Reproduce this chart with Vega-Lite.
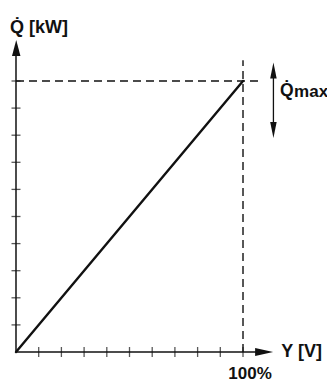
{
  "$schema": "https://vega.github.io/schema/vega-lite/v6.json",
  "width": 327,
  "height": 383,
  "autosize": {"type": "none"},
  "padding": 0,
  "config": {"view": {"stroke": null}, "text": {"font": "Liberation Sans", "fontWeight": "bold", "color": "#111"}},
  "datasets": {
    "axes": [
      {"x": 0, "y": 0, "x2": 105.7, "y2": 0},
      {"x": 0, "y": 0, "x2": 0, "y2": 109.6}
    ],
    "curve": [
      {"x": 0, "y": 0, "x2": 100, "y2": 100}
    ],
    "guides": [
      {"x": 0, "y": 100, "x2": 107, "y2": 100},
      {"x": 100, "y": 0, "x2": 100, "y2": 107.7}
    ],
    "range": [
      {"x": 113.4, "y": 104, "x2": 113.4, "y2": 82}
    ],
    "xticks": [
      {"x": 10, "y": 0}, {"x": 20, "y": 0}, {"x": 30, "y": 0}, {"x": 40, "y": 0}, {"x": 50, "y": 0},
      {"x": 60, "y": 0}, {"x": 70, "y": 0}, {"x": 80, "y": 0}, {"x": 90, "y": 0}, {"x": 100, "y": 0}
    ],
    "yticks": [
      {"x": 0, "y": 10}, {"x": 0, "y": 20}, {"x": 0, "y": 30}, {"x": 0, "y": 40}, {"x": 0, "y": 50},
      {"x": 0, "y": 60}, {"x": 0, "y": 70}, {"x": 0, "y": 80}, {"x": 0, "y": 90}, {"x": 0, "y": 100}
    ],
    "heads": [
      {"x": 0.1, "y": 112.2, "dir": "up"},
      {"x": 109.3, "y": 0, "dir": "right"},
      {"x": 113.4, "y": 103.9, "dir": "rangeUp"},
      {"x": 113.4, "y": 81.9, "dir": "rangeDown"}
    ],
    "labels": [
      {"x": -2.6, "y": 117.6, "label": "Q̇ [kW]", "role": "title"},
      {"x": 116.9, "y": -1.9, "label": "Y [V]", "role": "title"},
      {"x": 116.3, "y": 94.6, "label": "Q̇", "role": "q"},
      {"x": 122.5, "y": 94.1, "label": "max", "role": "sub"}
    ],
    "pct": [
      {"x": 103.1, "y": -9.9, "label": "100%"}
    ]
  },
  "encoding": {
    "x": {"field": "x", "type": "quantitative", "scale": {"domain": [-7.048, 137.0], "nice": false, "zero": false}, "axis": null},
    "y": {"field": "y", "type": "quantitative", "scale": {"domain": [-11.439, 129.889], "nice": false, "zero": false}, "axis": null}
  },
  "layer": [
    {
      "data": {"name": "guides"},
      "mark": {"type": "rule", "color": "#111", "strokeWidth": 1.4, "strokeDash": [8, 5]},
      "encoding": {"x2": {"field": "x2"}, "y2": {"field": "y2"}}
    },
    {
      "data": {"name": "axes"},
      "mark": {"type": "rule", "color": "#111", "strokeWidth": 1.5},
      "encoding": {"x2": {"field": "x2"}, "y2": {"field": "y2"}}
    },
    {
      "data": {"name": "range"},
      "mark": {"type": "rule", "color": "#111", "strokeWidth": 1.3},
      "encoding": {"x2": {"field": "x2"}, "y2": {"field": "y2"}}
    },
    {
      "data": {"name": "curve"},
      "mark": {"type": "rule", "color": "#111", "strokeWidth": 2.4, "strokeCap": "round"},
      "encoding": {"x2": {"field": "x2"}, "y2": {"field": "y2"}}
    },
    {
      "data": {"name": "xticks"},
      "mark": {"type": "tick", "orient": "vertical", "color": "#111", "size": 10, "thickness": 1.3}
    },
    {
      "data": {"name": "yticks"},
      "mark": {"type": "tick", "orient": "horizontal", "color": "#111", "size": 9, "thickness": 1.3}
    },
    {
      "data": {"name": "heads"},
      "mark": {"type": "point", "filled": true, "opacity": 1, "color": "#111", "size": 324, "strokeWidth": 0},
      "encoding": {
        "shape": {"field": "dir", "type": "nominal", "legend": null,
          "scale": {"domain": ["up", "right", "rangeUp", "rangeDown"],
            "range": ["M-0.47,0.89L0,-0.89L0.47,0.89Z", "M-1,-0.44L1,0L-1,0.44Z", "M-0.36,0.89L0,-0.89L0.36,0.89Z", "M-0.36,-0.89L0,0.89L0.36,-0.89Z"]}}
      }
    },
    {
      "data": {"name": "labels"},
      "mark": {"type": "text", "align": "left", "baseline": "alphabetic"},
      "encoding": {
        "text": {"field": "label"},
        "size": {"field": "role", "type": "nominal", "legend": null, "scale": {"domain": ["title", "q", "sub"], "range": [18, 17, 12.5]}}
      }
    },
    {
      "data": {"name": "pct"},
      "mark": {"type": "text", "align": "center", "baseline": "alphabetic", "fontSize": 17},
      "encoding": {"text": {"field": "label"}}
    }
  ]
}
